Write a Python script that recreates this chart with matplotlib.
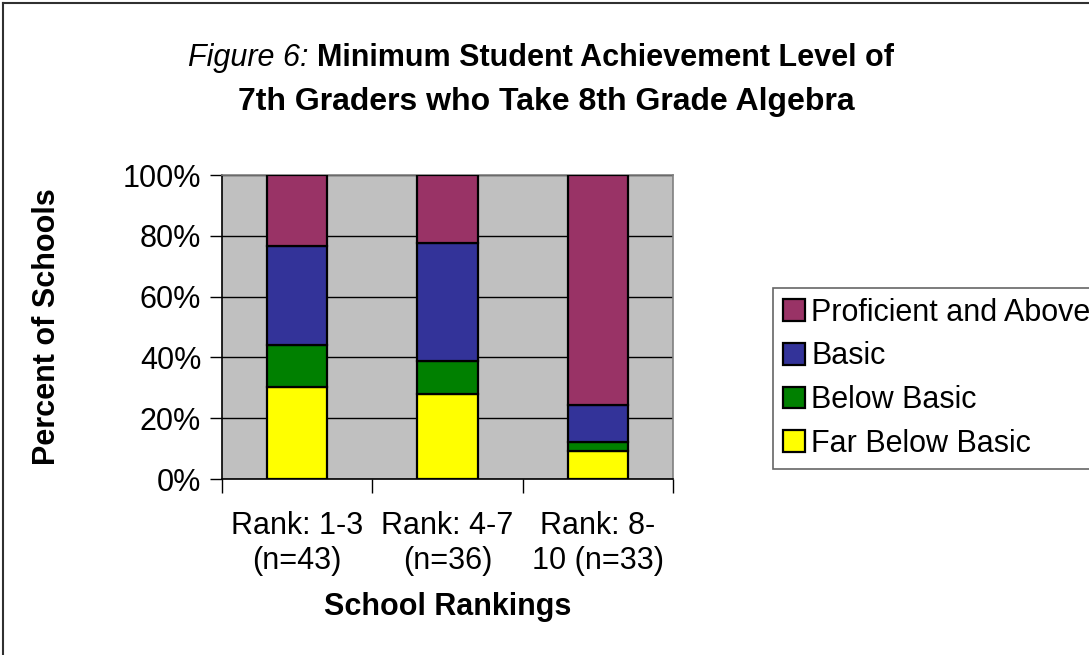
import matplotlib
matplotlib.use("Agg")
from matplotlib import pyplot as plt
from matplotlib.lines import Line2D
import numpy as np

plt.rcParams['font.family'] = ['Liberation Sans', 'DejaVu Sans']

# data (percent of schools per rank group)
categories = ["Rank: 1-3\n(n=43)", "Rank: 4-7\n(n=36)", "Rank: 8-\n10 (n=33)"]
levels = ["Far Below Basic", "Below Basic", "Basic", "Proficient and Above"]
far_below = [30.2, 27.8, 9.1]
below = [14.0, 11.1, 3.0]
basic = [32.6, 38.9, 12.1]
proficient = [23.3, 22.2, 75.8]
colors = ["#FFFF00", "#008000", "#333399", "#993366"]

fig = plt.figure(figsize=(10.89, 6.55), dpi=100)
# outer frame: only left and top edges visible
fig.lines.append(Line2D([0.003, 0.003], [0.0, 0.995], transform=fig.transFigure,
                        color="#303030", linewidth=1.5))
fig.lines.append(Line2D([0.003, 1.0], [0.995, 0.995], transform=fig.transFigure,
                        color="#303030", linewidth=1.5))

ax = fig.add_axes([0.2039, 0.2687, 0.4141, 0.4641])
ax.set_facecolor("#C0C0C0")

x = np.arange(len(categories))
bottom = np.zeros(len(categories))
handles = []
for vals, name, c in zip([far_below, below, basic, proficient], levels, colors):
    b = ax.bar(x, vals, 0.4, bottom=bottom, color=c, edgecolor="black",
               linewidth=1.6, label=name, zorder=3)
    handles.append(b)
    bottom += np.array(vals)

fs = 22
ax.set_xlim(-0.5, 2.5)
ax.set_ylim(0, 100)
ax.set_yticks(np.arange(0, 101, 20))
ax.set_yticklabels([f"{v}%" for v in range(0, 101, 20)], fontsize=fs)
ax.yaxis.grid(True, color="black", linewidth=1)
ax.set_axisbelow(True)
ax.tick_params(axis="y", direction="out", length=9, width=1, pad=6)

ax.set_xticks(x)
ax.set_xticklabels(categories, fontsize=fs, linespacing=1.2)
ax.set_xticks([-0.5, 0.5, 1.5, 2.5], minor=True)
ax.tick_params(axis="x", which="major", length=0, pad=23)
ax.tick_params(axis="x", which="minor", direction="out", length=10, width=1)

for s in ["top", "right"]:
    ax.spines[s].set_color("#808080")
    ax.spines[s].set_linewidth(1.2)
for s in ["left", "bottom"]:
    ax.spines[s].set_color("black")
    ax.spines[s].set_linewidth(1.2)

ax.set_ylabel("Percent of Schools", fontsize=fs, fontweight="bold", labelpad=44)
ax.set_xlabel("School Rankings", fontsize=fs, fontweight="bold", labelpad=12)

# title: italic prefix + bold text
fig.text(0.283, 0.912, "Figure 6:", fontsize=fs, fontstyle="italic", ha="right", va="center")
fig.text(0.291, 0.912, "Minimum Student Achievement Level of", fontsize=fs,
         fontweight="bold", ha="left", va="center")
fig.text(0.5015, 0.845, "7th Graders who Take 8th Grade Algebra", fontsize=23,
         fontweight="bold", ha="center", va="center")

leg = fig.legend(handles[::-1], levels[::-1], loc="upper left",
                 bbox_to_anchor=(0.710, 0.561), fontsize=fs, frameon=True,
                 fancybox=False, edgecolor="#404040", handlelength=0.72,
                 handleheight=0.72, handletextpad=0.2, labelspacing=0.45,
                 borderpad=0.33, borderaxespad=0)
leg.get_frame().set_linewidth(1.2)

fig.savefig("out.png", dpi=100)
